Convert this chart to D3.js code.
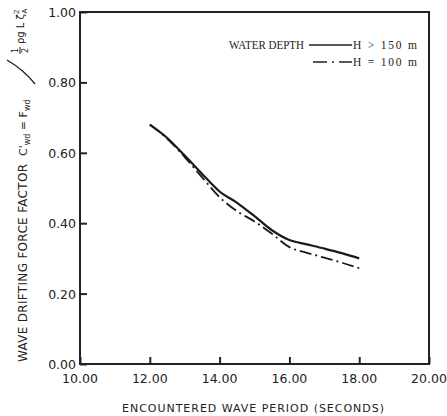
<!DOCTYPE html>
<html>
<head>
<meta charset="utf-8">
<script src="https://cdn.jsdelivr.net/npm/d3@7"></script>
<style>
  body { margin: 0; background: #fff; }
  svg { display: block; }
  .tick-label { font-family: "DejaVu Sans", sans-serif; font-size: 12.5px; fill: #222; }
  .legend { font-family: "Liberation Serif", serif; font-size: 11.5px; fill: #222; }
  .axis-title { font-family: "DejaVu Sans", sans-serif; font-size: 11px; fill: #222; }
</style>
</head>
<body>
<div id="chart"></div>
<script>
// encountered wave period (s)
var periods = [12.0, 12.5, 13.0, 13.5, 14.0, 14.5, 15.0, 15.5, 16.0, 16.5, 17.0, 17.5, 18.0];
// drifting force factor, H > 150 m
var deepValues = [0.680, 0.642, 0.592, 0.540, 0.490, 0.458, 0.420, 0.380, 0.352, 0.340, 0.328, 0.315, 0.300];
// drifting force factor, H = 100 m
var shallowValues = [0.680, 0.640, 0.588, 0.530, 0.474, 0.434, 0.405, 0.370, 0.332, 0.316, 0.302, 0.288, 0.272];

var xTicks = [10, 12, 14, 16, 18, 20];
var yTicks = [0, 0.2, 0.4, 0.6, 0.8, 1.0];

var margin = { top: 12, right: 18, bottom: 52, left: 80 },
    width = 447 - margin.left - margin.right,
    height = 416 - margin.top - margin.bottom;

var svg = d3.select('#chart').append('svg')
    .attr('width', 447)
    .attr('height', 416);

var g = svg.append('g').attr('transform', 'translate(' + margin.left + ',' + margin.top + ')');

var xScale = d3.scaleLinear().domain([10, 20]).range([0, width]);
var yScale = d3.scaleLinear().domain([0, 1]).range([height, 0]);

// frame
g.append('rect')
    .attr('x', 0).attr('y', 0)
    .attr('width', width).attr('height', height)
    .attr('fill', 'none')
    .attr('stroke', '#222')
    .attr('stroke-width', 2);

// inward ticks
var xAxis = d3.axisTop(xScale).tickValues(xTicks).tickSize(7).tickFormat('');
g.append('g')
    .attr('transform', 'translate(0,' + height + ')')
    .call(xAxis)
    .call(function (a) { a.select('.domain').remove(); })
    .selectAll('line').attr('stroke', '#222').attr('stroke-width', 2);

var yAxis = d3.axisRight(yScale).tickValues(yTicks).tickSize(7).tickFormat('');
g.append('g')
    .call(yAxis)
    .call(function (a) { a.select('.domain').remove(); })
    .selectAll('line').attr('stroke', '#222').attr('stroke-width', 2);

// tick labels
g.selectAll('.xl').data(xTicks).enter().append('text')
    .attr('class', 'tick-label')
    .attr('x', function (d) { return xScale(d); })
    .attr('y', height + 19)
    .attr('text-anchor', 'middle')
    .text(function (d) { return d.toFixed(2); });

g.selectAll('.yl').data(yTicks).enter().append('text')
    .attr('class', 'tick-label')
    .attr('x', -4)
    .attr('y', function (d) { return yScale(d) + 5; })
    .attr('text-anchor', 'end')
    .text(function (d) { return d.toFixed(2); });

// curves
var line = d3.line()
    .x(function (d) { return xScale(d[0]); })
    .y(function (d) { return yScale(d[1]); })
    .curve(d3.curveMonotoneX);

g.append('path')
    .datum(d3.zip(periods, deepValues))
    .attr('d', line)
    .attr('fill', 'none')
    .attr('stroke', '#1a1a1a')
    .attr('stroke-width', 2.2);

g.append('path')
    .datum(d3.zip(periods, shallowValues))
    .attr('d', line)
    .attr('fill', 'none')
    .attr('stroke', '#1a1a1a')
    .attr('stroke-width', 1.8)
    .attr('stroke-dasharray', '12,4,2,4');

// legend
var legend = svg.append('g');
legend.append('text').attr('class', 'legend')
    .attr('x', 229).attr('y', 49)
    .attr('textLength', 75).attr('lengthAdjust', 'spacingAndGlyphs')
    .text('WATER DEPTH');
legend.append('line')
    .attr('x1', 309).attr('x2', 352).attr('y1', 45).attr('y2', 45)
    .attr('stroke', '#222').attr('stroke-width', 1.5);
legend.append('text').attr('class', 'legend')
    .attr('x', 353).attr('y', 49).attr('xml:space', 'preserve')
    .attr('textLength', 64).attr('lengthAdjust', 'spacing')
    .text('H > 150 m');

legend.append('line')
    .attr('x1', 313).attr('x2', 352).attr('y1', 62).attr('y2', 62)
    .attr('stroke', '#222').attr('stroke-width', 1.5)
    .attr('stroke-dasharray', '14,5,2,5');
legend.append('text').attr('class', 'legend')
    .attr('x', 353).attr('y', 66).attr('xml:space', 'preserve')
    .attr('textLength', 64).attr('lengthAdjust', 'spacing')
    .text('H = 100 m');

// x axis title
svg.append('text')
    .attr('class', 'axis-title')
    .attr('x', 253).attr('y', 412)
    .attr('text-anchor', 'middle')
    .attr('textLength', 262)
    .attr('lengthAdjust', 'spacing')
    .text('ENCOUNTERED WAVE PERIOD (SECONDS)');

// y axis title (rotated)
var yt = svg.append('g').attr('transform', 'translate(27,362) rotate(-90)');
yt.append('text')
    .attr('class', 'axis-title')
    .style('font-size', '12px')
    .attr('x', 0).attr('y', 0)
    .attr('textLength', 198)
    .attr('lengthAdjust', 'spacing')
    .text('WAVE DRIFTING FORCE FACTOR');

var formula = yt.append('text')
    .attr('class', 'axis-title')
    .style('font-size', '11px')
    .attr('x', 206).attr('y', 0);
formula.append('tspan').text("C'");
formula.append('tspan').attr('dy', 3).style('font-size', '8px').text('wd');
formula.append('tspan').attr('dy', -3).text(' = F');
formula.append('tspan').attr('dy', 3).style('font-size', '8px').text('wd');

// long slash of the fraction
yt.append('path')
    .attr('d', 'M 278 8 Q 292 -3 302 -20')
    .attr('fill', 'none')
    .attr('stroke', '#222')
    .attr('stroke-width', 1.4);

var denom = yt.append('g').attr('transform', 'translate(308,-7)');
denom.append('text').attr('class', 'axis-title').style('font-size', '8px')
    .attr('x', 3.5).attr('y', -2).attr('text-anchor', 'middle').text('1');
denom.append('line').attr('x1', 0).attr('x2', 7).attr('y1', 0).attr('y2', 0)
    .attr('stroke', '#222').attr('stroke-width', 1);
denom.append('text').attr('class', 'axis-title').style('font-size', '8px')
    .attr('x', 3.5).attr('y', 8).attr('text-anchor', 'middle').text('2');
var rest = denom.append('text').attr('class', 'axis-title').style('font-size', '10px')
    .attr('x', 10).attr('y', 4);
rest.append('tspan').text('ρg L ζ');
rest.append('tspan').attr('dy', -5).style('font-size', '7px').text('2');
rest.append('tspan').attr('dy', 8).attr('dx', -4).style('font-size', '7px').text('A');
</script>
</body>
</html>
